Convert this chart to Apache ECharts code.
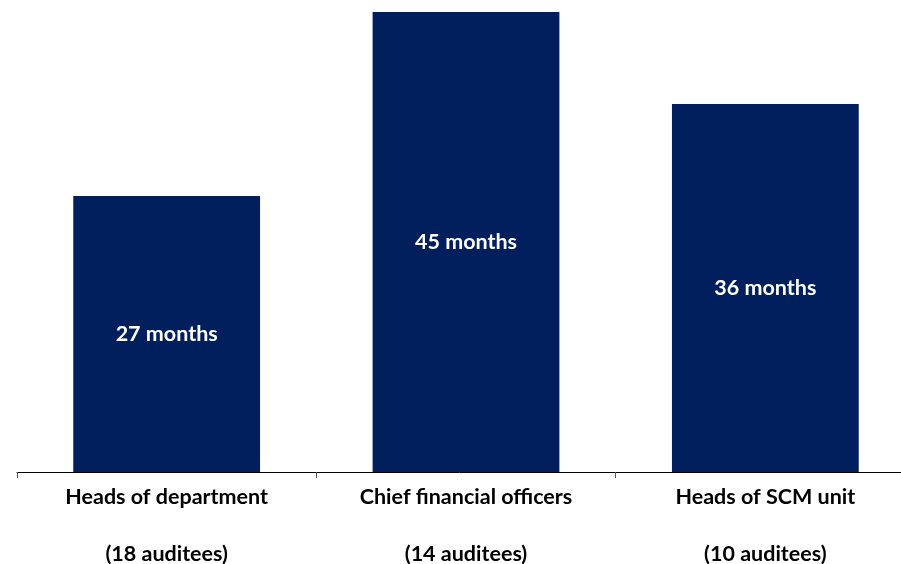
<!DOCTYPE html>
<html>
<head>
<meta charset="utf-8">
<script src="https://cdn.jsdelivr.net/npm/echarts@6/dist/echarts.min.js"></script>
<style>
html,body{margin:0;padding:0;background:#fff;}
#chart{width:901px;height:564px;}
</style>
</head>
<body>
<div id="chart"></div>
<script>
const categories = ['Heads of department', 'Chief financial officers', 'Heads of SCM unit'];
const auditees = ['(18 auditees)', '(14 auditees)', '(10 auditees)'];
const months = [27, 45, 36];

const chart = echarts.init(document.getElementById('chart'));
chart.setOption({
  animation: false,
  grid: { left: 17, width: 898, top: 12, bottom: 92, containLabel: false, outerBoundsMode: 'none' },
  xAxis: {
    type: 'category',
    data: categories,
    axisLine: { lineStyle: { color: '#000', width: 1 } },
    axisTick: { show: true, length: 6, lineStyle: { color: '#555' } },
    axisLabel: {
      interval: 0,
      margin: 13,
      formatter: function (v, i) { return '{a|' + v + '}\n{b|' + auditees[i] + '}'; },
      rich: {
        a: { fontFamily: 'Lato', fontWeight: 'bold', fontSize: 21.5, color: '#000', lineHeight: 25 },
        b: { fontFamily: 'Lato', fontWeight: 'bold', fontSize: 21.5, color: '#000', lineHeight: 88 }
      }
    }
  },
  yAxis: {
    type: 'value',
    min: 0,
    max: 45,
    show: false,
    splitLine: { show: false }
  },
  series: [{
    type: 'bar',
    data: months,
    barWidth: '62.4%',
    itemStyle: { color: '#001F5C' },
    label: {
      show: true,
      position: 'inside',
      formatter: function (p) { return p.value + ' months'; },
      color: '#fff',
      fontFamily: 'Lato',
      fontWeight: 'bold',
      fontSize: 21.5
    }
  }]
});
</script>
</body>
</html>
